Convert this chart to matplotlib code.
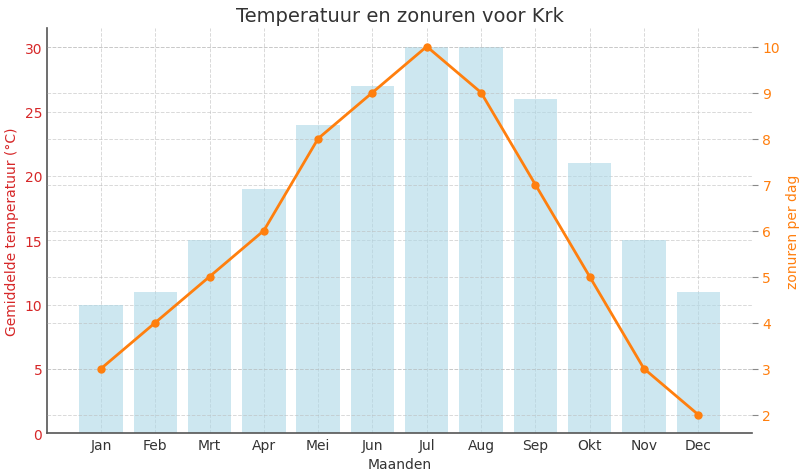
"""Temperatuur en zonuren voor Krk: bars for temperature, line for sun hours."""

import matplotlib.pyplot as plt

MONTHS = ["Jan", "Feb", "Mrt", "Apr", "Mei", "Jun", "Jul", "Aug", "Sep", "Okt", "Nov", "Dec"]
TEMPERATURE = [10, 11, 15, 19, 24, 27, 30, 30, 26, 21, 15, 11]
SUN_HOURS = [3, 4, 5, 6, 8, 9, 10, 9, 7, 5, 3, 2]

TEXT = "#333333"
SPINE = "#555555"
RED = "#d62728"
ORANGE = "#ff7f0e"


def main() -> None:
    plt.rcParams.update({"font.family": "DejaVu Sans", "font.size": 10})

    fig = plt.figure(figsize=(8, 4.77), dpi=100)
    ax1 = fig.add_axes([0.059, 0.090, 0.881, 0.849])
    ax2 = ax1.twinx()

    x = range(len(MONTHS))
    ax1.bar(x, TEMPERATURE, width=0.8, color="lightblue", alpha=0.6)
    ax2.plot(x, SUN_HOURS, color=ORANGE, linewidth=2, marker="o", markersize=5)

    ax1.set_xticks(list(x), MONTHS)
    ax1.set_xlabel("Maanden", color=TEXT)
    ax1.set_ylabel("Gemiddelde temperatuur (°C)", color=RED)
    ax2.set_ylabel("zonuren per dag", color=ORANGE)
    ax1.set_title("Temperatuur en zonuren voor Krk", color=TEXT, fontsize=14, pad=5)

    ax1.tick_params(axis="x", length=0, colors=TEXT, labelsize=10)
    ax1.tick_params(axis="y", length=0, labelcolor=RED, labelsize=10)
    ax2.tick_params(axis="y", length=4, color="#888888", labelcolor=ORANGE, labelsize=10)

    for axis in (ax1, ax2):
        axis.grid(True, linestyle="--", linewidth=0.7, color="#bbbbbb", alpha=0.55)
        axis.set_axisbelow(True)
        axis.spines["top"].set_visible(False)
        axis.spines["right"].set_visible(False)
    ax2.spines["left"].set_visible(False)
    ax2.spines["bottom"].set_visible(False)
    ax1.spines["left"].set_color(SPINE)
    ax1.spines["bottom"].set_color(SPINE)
    ax1.spines["left"].set_linewidth(1.2)
    ax1.spines["bottom"].set_linewidth(1.2)

    fig.savefig("out.png", dpi=100)


if __name__ == "__main__":
    main()
